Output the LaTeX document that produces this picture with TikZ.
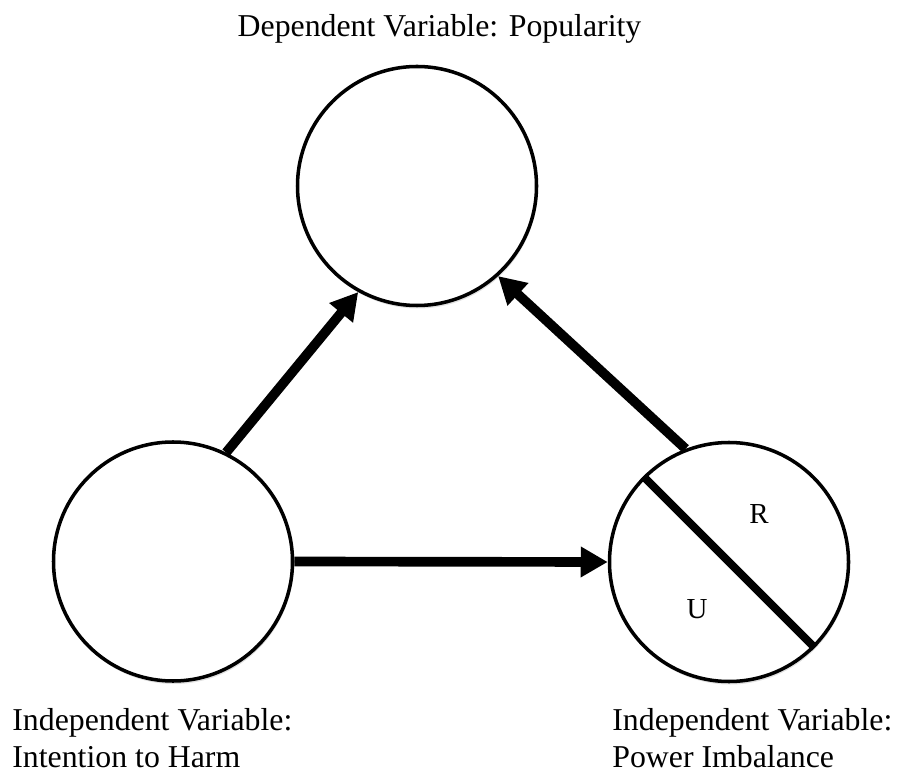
\documentclass[tikz,border=0pt]{standalone}
\usepackage{fontspec}
\setmainfont{Liberation Serif}
\usetikzlibrary{arrows.meta,shadows}
\definecolor{shdwgray}{rgb}{0.6,0.6,0.6}

\begin{document}
\begin{tikzpicture}[line cap=round,line join=round,x=1.0cm,y=1.0cm,
  varcirc/.style={circle,draw=black,line width=2pt,fill=white,minimum size=4.78cm,inner sep=0pt,
    drop shadow={shadow xshift=0.02cm,shadow yshift=-0.06cm,fill=shdwgray,opacity=0.3}},
  effect/.style={line width=5.5pt,line cap=butt,-{Triangle[length=0.54cm,width=0.58cm]}},
  varlbl/.style={font=\fontsize{18.1}{20.8}\selectfont,inner sep=0pt,align=left},
  partlbl/.style={font=\fontsize{16.5}{19}\selectfont,inner sep=0pt}]
\useasboundingbox (0.,0.) rectangle (17.96,15.44);
\node[varcirc] (pop) at (8.34,11.72) {};
\node[varcirc] (harm) at (3.46,4.21) {};
\node[varcirc] (power) at (14.58,4.2) {};
\draw [line width=4.5pt,line cap=butt] (power.135)-- (power.-45);
\draw [effect] (harm.64)-- (pop.241);
\draw [effect] (power.111)-- (pop.-48);
\draw [effect] (harm.east)-- (power.west);
\node[partlbl] (rpart) at (15.18,5.16) {R};
\node[partlbl] (upart) at (13.94,3.26) {U};
\node[varlbl,anchor=base] (poplbl) at (8.79,14.7) {Dependent Variable: Popularity};
\node[varlbl,anchor=base west] (harmlbl) at (0.24,0.09) {Independent Variable:\\Intention to Harm};
\node[varlbl,anchor=base west] (powerlbl) at (12.24,0.09) {Independent Variable:\\Power Imbalance};
\end{tikzpicture}
\end{document}
